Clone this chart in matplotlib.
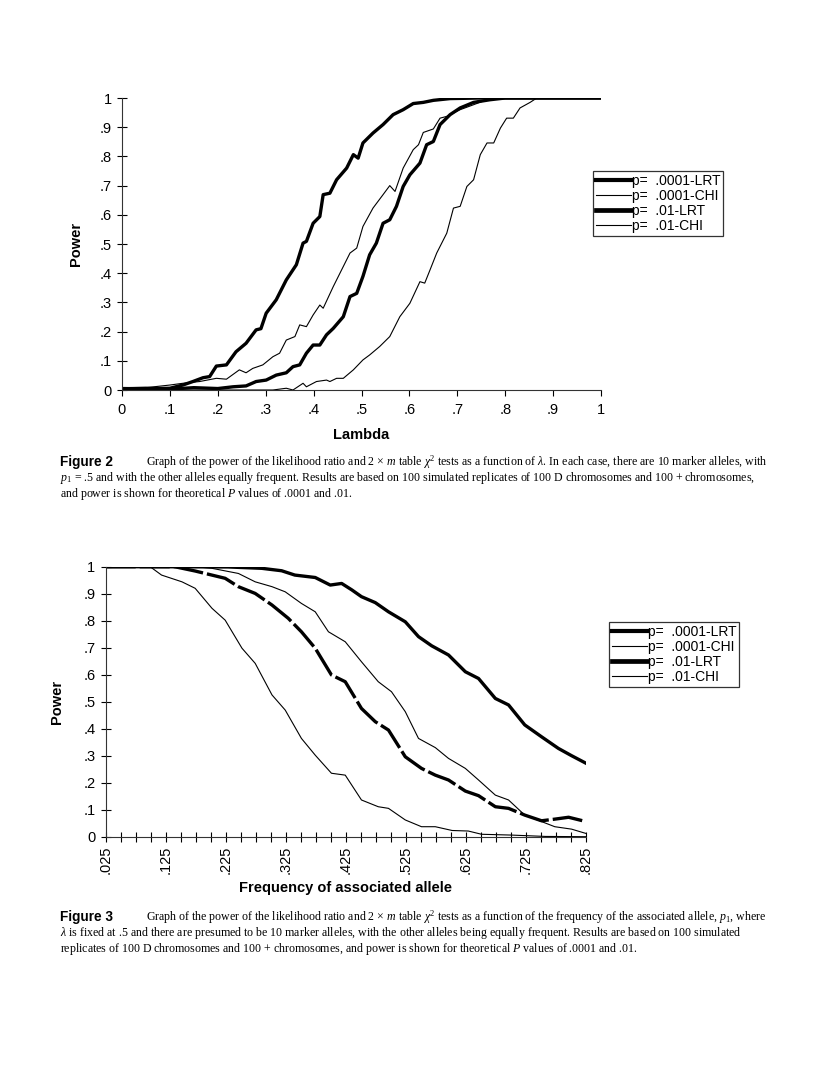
import matplotlib
matplotlib.use('Agg')
import matplotlib.pyplot as plt
from matplotlib.lines import Line2D

plt.rcParams['font.family'] = ['Liberation Sans', 'DejaVu Sans']
plt.rcParams['mathtext.fontset'] = 'custom'
plt.rcParams['mathtext.rm'] = 'Liberation Serif'
plt.rcParams['mathtext.it'] = 'Liberation Serif:italic'

# ---- Figure 2 data: power vs lambda ----
fig2_x_lrt01 = [0, 0.05, 0.1, 0.127, 0.148, 0.169, 0.183, 0.197, 0.218, 0.238, 0.259, 0.28, 0.29,
                0.301, 0.322, 0.343, 0.364, 0.378, 0.385, 0.399, 0.413, 0.42, 0.434, 0.448, 0.469,
                0.483, 0.493, 0.503, 0.524, 0.545, 0.566, 0.587, 0.608, 0.629, 0.65, 0.685, 0.75, 1.0]
fig2_y_lrt01 = [0.005, 0.004, 0.006, 0.017, 0.029, 0.042, 0.046, 0.082, 0.086, 0.131, 0.16, 0.206, 0.21,
                0.263, 0.309, 0.377, 0.429, 0.503, 0.509, 0.571, 0.594, 0.669, 0.674, 0.72, 0.76,
                0.806, 0.794, 0.846, 0.88, 0.909, 0.943, 0.96, 0.981, 0.985, 0.992, 0.998, 1.0, 1.0]

fig2_x_chi01 = [0, 0.05, 0.1, 0.127, 0.162, 0.197, 0.218, 0.245, 0.259, 0.273, 0.294, 0.315, 0.329,
                0.343, 0.361, 0.371, 0.385, 0.399, 0.413, 0.42, 0.441, 0.455, 0.476, 0.49, 0.503,
                0.524, 0.545, 0.559, 0.57, 0.587, 0.608, 0.619, 0.629, 0.65, 0.664, 0.678, 0.706,
                0.734, 0.755, 0.79, 1.0]
fig2_y_chi01 = [0.005, 0.008, 0.017, 0.023, 0.029, 0.04, 0.037, 0.069, 0.059, 0.074, 0.086, 0.114, 0.126,
                0.171, 0.183, 0.223, 0.217, 0.257, 0.291, 0.28, 0.354, 0.4, 0.469, 0.486, 0.56,
                0.623, 0.669, 0.7, 0.68, 0.76, 0.823, 0.84, 0.882, 0.894, 0.931, 0.937, 0.96,
                0.977, 0.99, 1.0, 1.0]

fig2_x_lrt0001 = [0, 0.05, 0.1, 0.15, 0.2, 0.232, 0.259, 0.28, 0.301, 0.322, 0.343, 0.357, 0.371,
                  0.385, 0.399, 0.413, 0.427, 0.441, 0.462, 0.476, 0.49, 0.503, 0.517, 0.531, 0.545,
                  0.559, 0.573, 0.587, 0.601, 0.622, 0.636, 0.65, 0.664, 0.685, 0.706, 0.734, 0.768,
                  0.8, 1.0]
fig2_y_lrt0001 = [0.004, 0.006, 0.003, 0.008, 0.005, 0.011, 0.014, 0.029, 0.034, 0.051, 0.059, 0.08, 0.086,
                  0.126, 0.154, 0.154, 0.189, 0.211, 0.251, 0.32, 0.331, 0.389, 0.463, 0.503, 0.571,
                  0.583, 0.629, 0.697, 0.737, 0.777, 0.84, 0.851, 0.909, 0.943, 0.966, 0.985, 0.994,
                  1.0, 1.0]

fig2_x_chi0001 = [0, 0.1, 0.2, 0.3, 0.315, 0.343, 0.357, 0.378, 0.385, 0.406, 0.427, 0.434, 0.448,
                  0.462, 0.483, 0.503, 0.517, 0.538, 0.559, 0.58, 0.601, 0.622, 0.632, 0.643, 0.657,
                  0.678, 0.692, 0.706, 0.72, 0.734, 0.748, 0.762, 0.776, 0.79, 0.803, 0.817, 0.831,
                  0.852, 0.866, 1.0]
fig2_y_chi0001 = [0, 0, 0, 0, 0, 0.006, 0.0, 0.023, 0.011, 0.029, 0.034, 0.029, 0.04,
                  0.04, 0.069, 0.103, 0.12, 0.149, 0.183, 0.251, 0.297, 0.371, 0.366, 0.411, 0.469,
                  0.537, 0.623, 0.629, 0.697, 0.72, 0.806, 0.846, 0.846, 0.897, 0.931, 0.931, 0.966,
                  0.985, 1.0, 1.0]

# ---- Figure 3 data: power vs frequency of associated allele ----
fig3_x_lrt01 = [0.025, 0.1, 0.229, 0.285, 0.318, 0.34, 0.374, 0.399, 0.418, 0.435, 0.451, 0.474, 0.496,
                0.524, 0.546, 0.568, 0.596, 0.624, 0.646, 0.674, 0.696, 0.723, 0.751, 0.779, 0.801, 0.825]
fig3_y_lrt01 = [1.0, 1.0, 0.999, 0.994, 0.985, 0.969, 0.96, 0.932, 0.938, 0.914, 0.889, 0.867, 0.833,
                0.796, 0.741, 0.707, 0.673, 0.611, 0.586, 0.512, 0.488, 0.414, 0.37, 0.327, 0.3, 0.272]

fig3_x_chi01 = [0.025, 0.1, 0.174, 0.202, 0.246, 0.274, 0.302, 0.324, 0.351, 0.374, 0.396, 0.424, 0.451,
                0.479, 0.501, 0.524, 0.546, 0.574, 0.596, 0.624, 0.646, 0.674, 0.696, 0.723, 0.751,
                0.773, 0.801, 0.825]
fig3_y_chi01 = [1.0, 1.0, 1.0, 0.994, 0.975, 0.944, 0.926, 0.907, 0.864, 0.833, 0.759, 0.722, 0.648,
                0.574, 0.537, 0.463, 0.364, 0.33, 0.29, 0.253, 0.21, 0.154, 0.136, 0.08, 0.056,
                0.037, 0.028, 0.012]

fig3_x_lrt0001 = [0.025, 0.1, 0.14, 0.174, 0.224, 0.246, 0.274, 0.302, 0.329, 0.351, 0.374, 0.401, 0.424,
                  0.451, 0.474, 0.496, 0.524, 0.551, 0.574, 0.596, 0.624, 0.646, 0.674, 0.696, 0.723,
                  0.751, 0.773, 0.796, 0.825]
fig3_y_lrt0001 = [1.0, 1.0, 1.0, 0.984, 0.957, 0.926, 0.901, 0.858, 0.809, 0.759, 0.698, 0.599, 0.574,
                  0.475, 0.426, 0.395, 0.296, 0.253, 0.228, 0.21, 0.169, 0.152, 0.111, 0.105, 0.08,
                  0.059, 0.065, 0.072, 0.056]

fig3_x_chi0001 = [0.025, 0.099, 0.118, 0.152, 0.174, 0.202, 0.224, 0.252, 0.274, 0.302, 0.324, 0.351,
                  0.374, 0.401, 0.424, 0.451, 0.479, 0.496, 0.524, 0.551, 0.574, 0.602, 0.629, 0.651,
                  0.701, 0.757, 0.825]
fig3_y_chi0001 = [1.0, 1.0, 0.969, 0.944, 0.92, 0.846, 0.802, 0.698, 0.642, 0.525, 0.469, 0.364,
                  0.302, 0.235, 0.228, 0.136, 0.111, 0.105, 0.062, 0.037, 0.037, 0.023, 0.021, 0.009,
                  0.006, 0.001, 0.0]

legend_labels = ['p=  .0001-LRT', 'p=  .0001-CHI', 'p=  .01-LRT', 'p=  .01-CHI']

fig2_caption = [
    r'Graph of the power of the likelihood ratio and 2 $\times$ $m$ table $\chi^2$ tests as a function of $\lambda$. In each case, there are 10 marker alleles, with',
    r'$p_1$ = .5 and with the other alleles equally frequent. Results are based on 100 simulated replicates of 100 D chromosomes and 100 + chromosomes,',
    r'and power is shown for theoretical $P$ values of .0001 and .01.',
]
fig3_caption = [
    r'Graph of the power of the likelihood ratio and 2 $\times$ $m$ table $\chi^2$ tests as a function of the frequency of the associated allele, $p_1$, where',
    r'$\lambda$ is fixed at .5 and there are presumed to be 10 marker alleles, with the other alleles being equally frequent. Results are based on 100 simulated',
    r'replicates of 100 D chromosomes and 100 + chromosomes, and power is shown for theoretical $P$ values of .0001 and .01.',
]

W, H = 816, 1081
fig = plt.figure(figsize=(W / 100, H / 100), dpi=100)


def fx(px):
    return px / W


def fy(py):
    return 1 - py / H


THICK = 2.4
THIN = 0.8


def style_axes(ax):
    for s in ['top', 'right']:
        ax.spines[s].set_visible(False)
    for s in ['left', 'bottom']:
        ax.spines[s].set_linewidth(0.8)
        ax.spines[s].set_color('#333333')
    ax.set_ylim(0, 1)
    yt = [i / 10 for i in range(11)]
    ax.set_yticks(yt)
    ax.set_yticklabels(['0'] + ['.%d' % i for i in range(1, 10)] + ['1'])
    ax.tick_params(axis='y', direction='inout', length=7, width=0.8, labelsize=10.5, pad=4)


def make_legend(ax, left, top):
    handles = [Line2D([], [], color='black', lw=THICK + 0.6),
               Line2D([], [], color='black', lw=THIN),
               Line2D([], [], color='black', lw=THICK + 1.0),
               Line2D([], [], color='black', lw=THIN)]
    leg = ax.legend(handles, legend_labels, loc='upper left',
                    bbox_to_anchor=(fx(left), fy(top)), bbox_transform=fig.transFigure,
                    fontsize=10, frameon=True, fancybox=False, borderpad=0.2,
                    labelspacing=0.08, handlelength=2.5, handletextpad=0.1, borderaxespad=0)
    leg.get_frame().set_edgecolor('black')
    leg.get_frame().set_linewidth(0.9)


# ---- Figure 2 axes ----
ax1 = fig.add_axes([fx(122), fy(390), fx(601) - fx(122), fy(98) - fy(390)])
style_axes(ax1)
ax1.plot(fig2_x_lrt01, fig2_y_lrt01, color='black', lw=THICK, solid_joinstyle='round')
ax1.plot(fig2_x_chi01, fig2_y_chi01, color='black', lw=THIN)
ax1.plot(fig2_x_lrt0001, fig2_y_lrt0001, color='black', lw=THICK, solid_joinstyle='round')
ax1.plot(fig2_x_chi0001, fig2_y_chi0001, color='black', lw=THIN)
ax1.set_xlim(0, 1)
ax1.set_xticks([i / 10 for i in range(11)])
ax1.set_xticklabels(['0'] + ['.%d' % i for i in range(1, 10)] + ['1'])
ax1.tick_params(axis='x', direction='out', length=4, width=0.8, labelsize=10.5, pad=5)
ax1.set_xlabel('Lambda', fontsize=10.5, fontweight='bold', labelpad=8)
ax1.set_ylabel('Power', fontsize=10.5, fontweight='bold', labelpad=12)
make_legend(ax1, 593, 171)

# ---- Figure 3 axes ----
ax2 = fig.add_axes([fx(105.7), fy(836.7), fx(586) - fx(105.7), fy(566.7) - fy(836.7)])
style_axes(ax2)
ax2.plot(fig3_x_lrt01, fig3_y_lrt01, color='black', lw=THICK)
ax2.plot(fig3_x_chi01, fig3_y_chi01, color='black', lw=THIN)
ax2.plot(fig3_x_lrt0001, fig3_y_lrt0001, color='black', lw=THICK, dashes=(9, 1.2))
ax2.plot(fig3_x_chi0001, fig3_y_chi0001, color='black', lw=THIN)
ax2.set_xlim(0.025, 0.825)
major = [0.025 + 0.1 * i for i in range(9)]
minor = [0.025 + 0.025 * i for i in range(33)]
ax2.set_xticks(major)
ax2.set_xticks(minor, minor=True)
ax2.set_xticklabels([('%.3f' % v).lstrip('0') for v in major], rotation=90)
ax2.tick_params(axis='x', which='both', direction='inout', length=7, width=0.8, labelsize=10.5, pad=3)
ax2.set_xlabel('Frequency of associated allele', fontsize=10.5, fontweight='bold', labelpad=5)
ax2.set_ylabel('Power', fontsize=10.5, fontweight='bold', labelpad=14)
make_legend(ax2, 609, 622)

# ---- captions ----
def caption(label, lines, y0):
    fig.text(fx(60), fy(y0), label, fontsize=9.8, fontweight='bold', va='center', ha='left',
             family=['Liberation Sans', 'DejaVu Sans'])
    for i, line in enumerate(lines):
        x = 146 if i == 0 else 60
        fig.text(fx(x), fy(y0 + 16 * i), line, fontsize=8.6, va='center', ha='left',
                 family=['Liberation Serif', 'DejaVu Serif'])


caption('Figure 2', fig2_caption, 462)
caption('Figure 3', fig3_caption, 917)

fig.savefig('out.png', dpi=100)
